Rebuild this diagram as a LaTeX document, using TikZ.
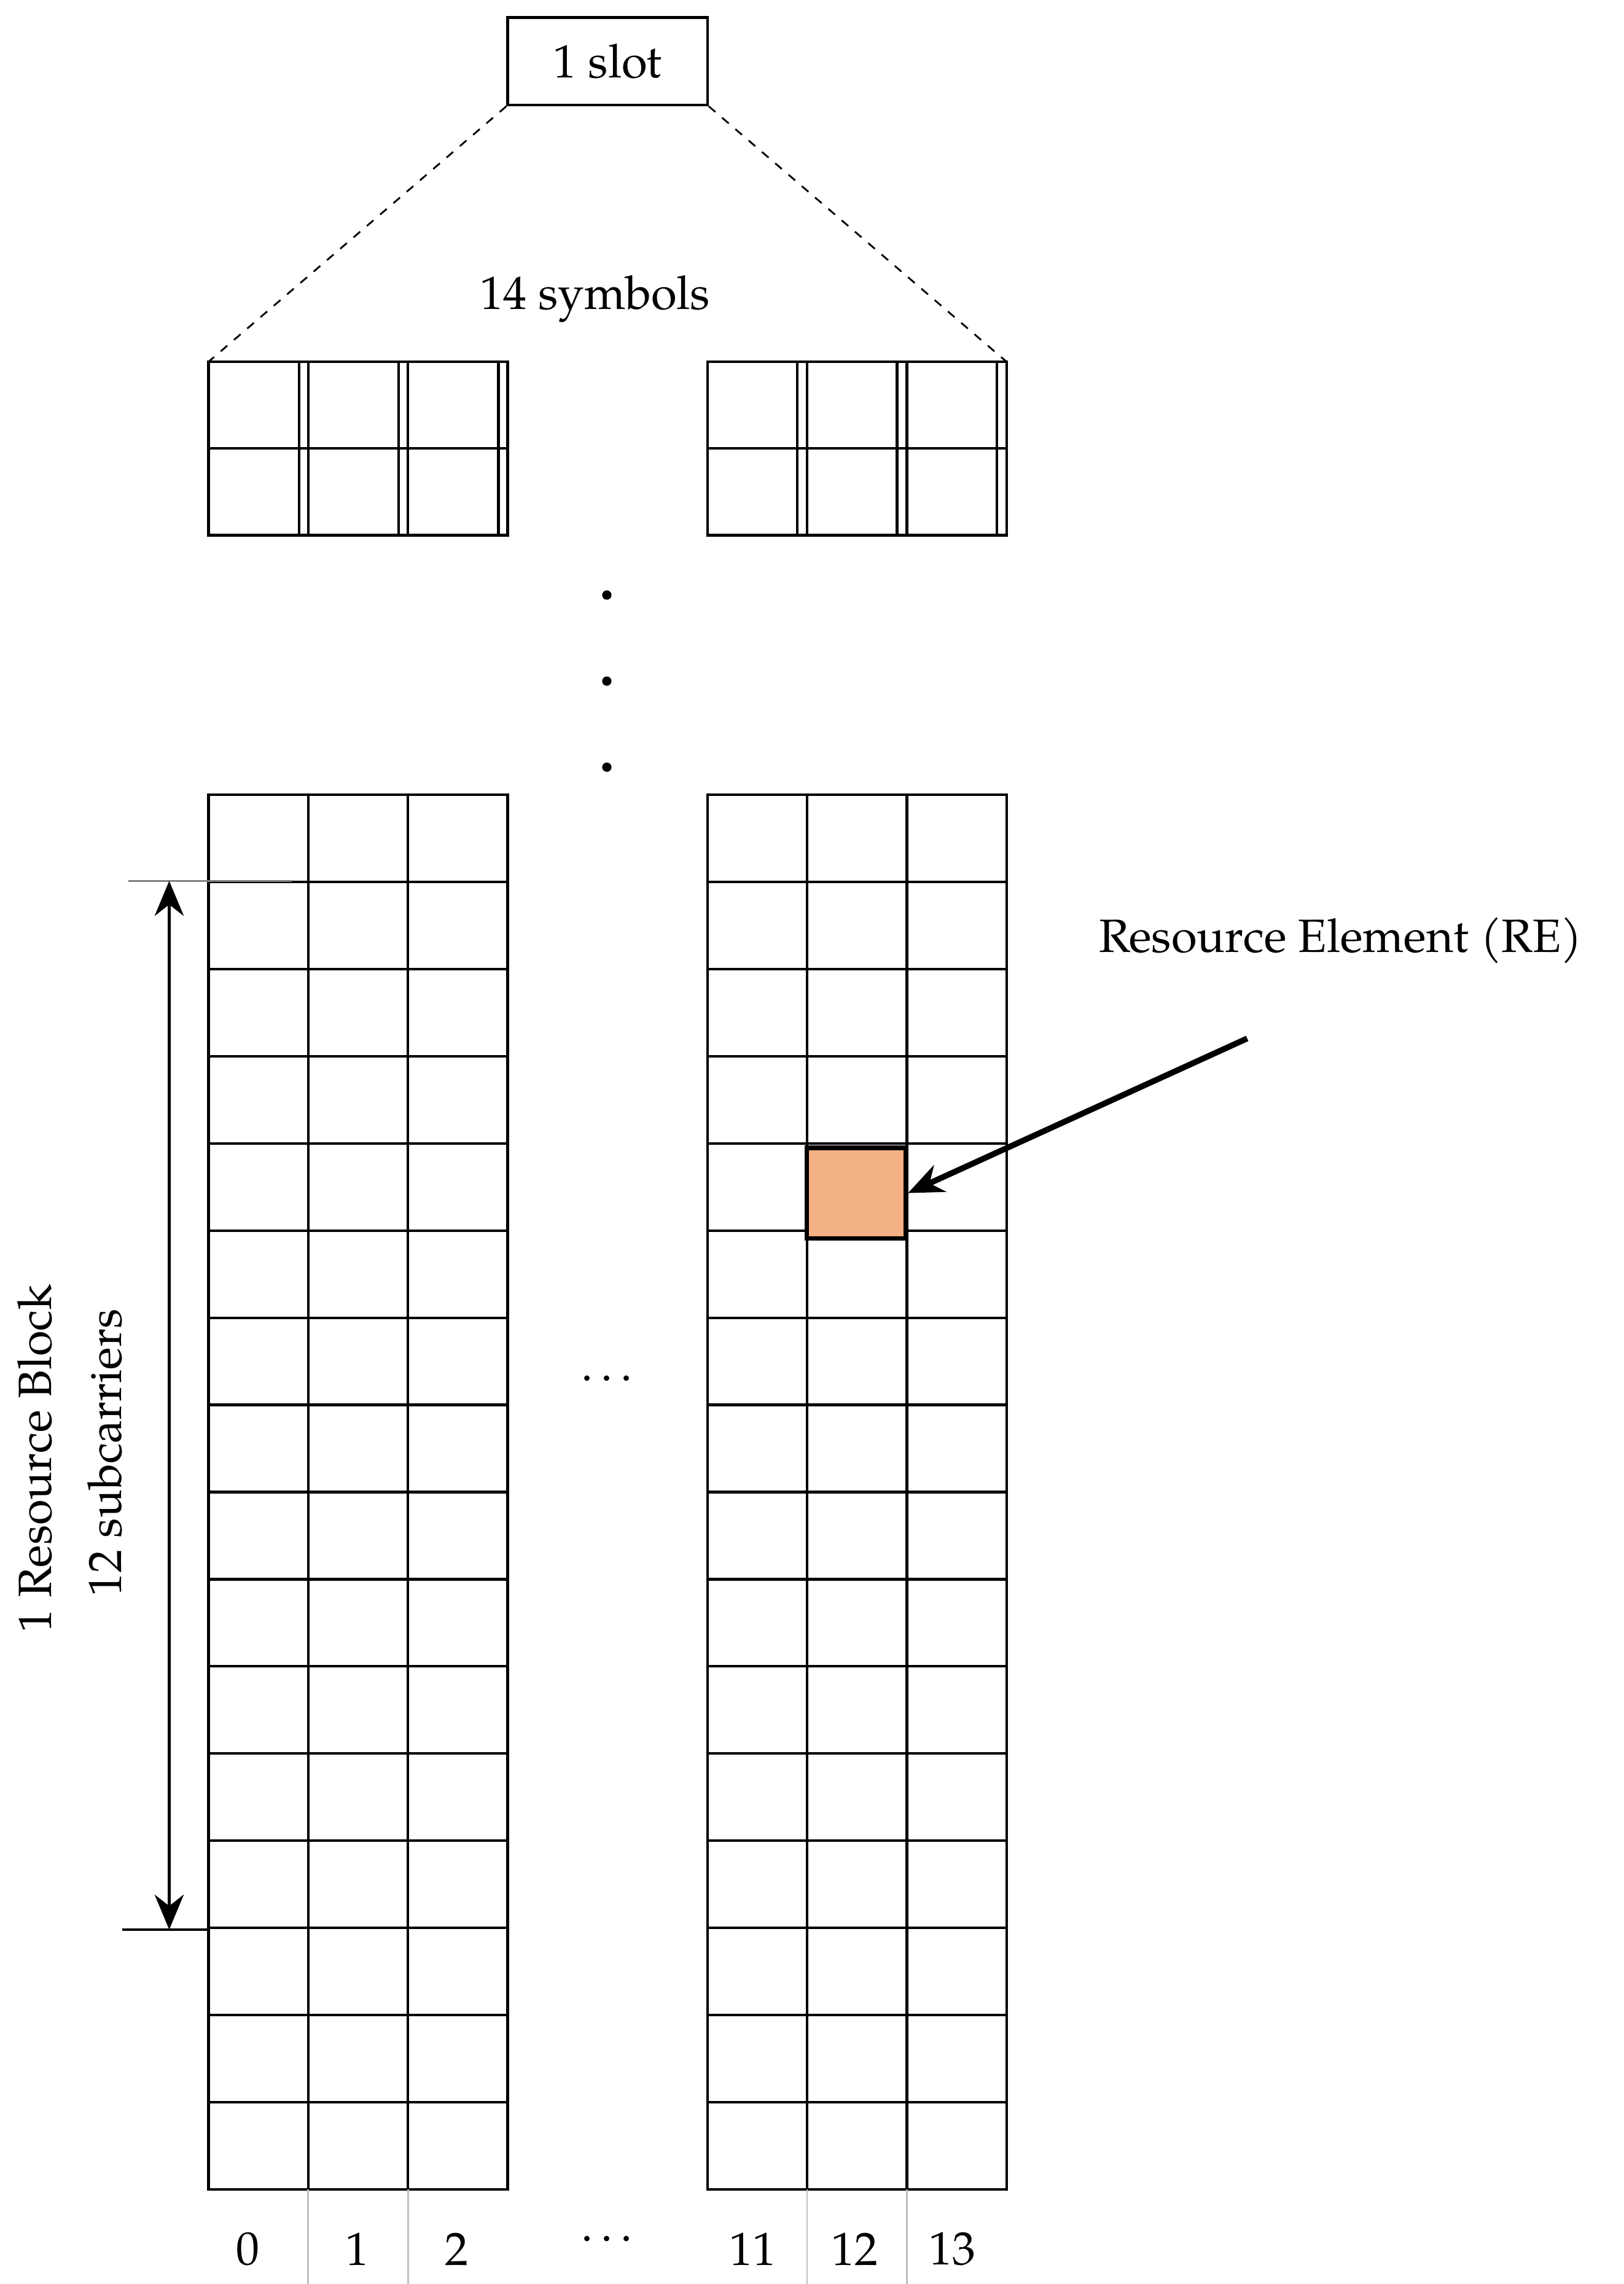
\documentclass[tikz,border=0pt]{standalone}
\usepackage{fontspec}
\setmainfont{TeX Gyre Pagella}[Extension=.otf,UprightFont=texgyrepagella-regular]
\usetikzlibrary{arrows.meta}
\begin{document}
\begin{tikzpicture}[x=0.5pt,y=-0.5pt,
  lbl/.style={font=\fontsize{16}{19}\selectfont, inner sep=0pt},
  cell/.style={draw=black, line width=0.9pt}]
\useasboundingbox (0,0) rectangle (1113,1566);
% slot box
\node[draw, line width=0.9pt, minimum width=68.5pt, minimum height=30pt, inner sep=0pt, lbl] (slot) at (416.5,42) {1 slot};
\coordinate (tl) at (143,248);
\coordinate (tr) at (690,248);
\draw[dashed, line width=0.6pt] (slot.south west) -- (tl);
\draw[dashed, line width=0.6pt] (slot.south east) -- (tr);
\node[lbl] (sym) at (408,205) {14 symbols};
% top grids
\foreach \x in {143,485}{
  \draw[line width=0.9pt] (\x,248) grid[xstep=68.33,ystep=59.5] (\x+205,367);
  \draw[line width=0.9pt] (\x,248) rectangle (\x+205,367);
  \foreach \i in {1,2} \draw[line width=0.9pt] (\x+\i*68.33,248) -- (\x+\i*68.33,367);
  \draw[line width=0.9pt] (\x,307.5) -- (\x+205,307.5);
}
% vertical dots
\foreach \y in {408,467,526} \fill (416,\y) circle (1.6pt);
% bottom grids
\foreach \x in {143,485}{
  \draw[line width=0.9pt] (\x,545) rectangle (\x+205,1501);
  \foreach \i in {1,2} \draw[line width=0.9pt] (\x+\i*68.33,545) -- (\x+\i*68.33,1501);
  \foreach \j in {1,...,15} \draw[line width=0.9pt] (\x,545+\j*59.75) -- (\x+205,545+\j*59.75);
}
% gray ticks below
\foreach \x in {211.3,279.7,553.3,621.7} \draw[gray!50, line width=0.6pt] (\x,1501) -- (\x,1566);
% highlighted RE
\node[draw, line width=1.5pt, fill={rgb,255:red,244;green,177;blue,131}, minimum width=34pt, minimum height=31pt, inner sep=0pt] (re) at (587,818) {};
\node[lbl, anchor=west] (retxt) at (753,645) {Resource Element (RE)};
\coordinate (arrs) at (855,712);
\draw[-{Stealth[length=12pt,width=10pt]}, line width=2pt] (arrs) -- (re.east);
% dots
\node[lbl] (hd) at (416,945) {\textbf{.\,.\,.}};
% bottom labels
\foreach \x/\t in {170/0,245/1,313/2,516/11,586/12,653/13}
  \node[lbl] (n\t) at (\x,1542) {\t};
\node[lbl] (bd) at (416,1535) {\textbf{.\,.\,.}};
% resource block arrow
\coordinate (ra) at (116,604);
\coordinate (rb) at (116,1323);
\draw[gray, line width=0.8pt] (88,604) -- (200,604);
\draw[line width=0.8pt] (84,1323) -- (143,1323);
\draw[{Stealth[length=12pt,width=10pt]}-{Stealth[length=12pt,width=10pt]}, line width=0.9pt] (ra) -- (rb);
\node[lbl, rotate=90] (rb1) at (24,1000) {1 Resource Block};
\node[lbl, rotate=90] (rb2) at (72,996) {12 subcarriers};
\end{tikzpicture}
\end{document}
